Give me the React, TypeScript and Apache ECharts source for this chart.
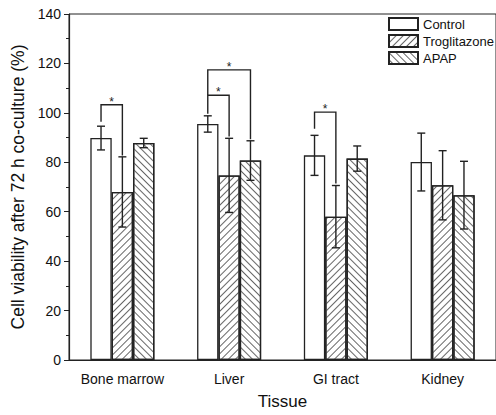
import React, { useEffect, useRef } from "react";
import * as echarts from "echarts";

const categories = ["Bone marrow", "Liver", "GI tract", "Kidney"];
const seriesNames = ["Control", "Troglitazone", "APAP"];
const controlValues = [89.8, 95.5, 82.8, 80.1];
const controlErrors = [4.8, 3.3, 8.1, 11.7];
const troglitazoneValues = [68.0, 74.7, 58.0, 70.7];
const troglitazoneErrors = [14.2, 15.0, 12.6, 14.0];
const apapValues = [87.8, 80.7, 81.5, 66.7];
const apapErrors = [1.9, 8.0, 5.1, 13.7];
const yTicks = [0, 20, 40, 60, 80, 100, 120, 140];
// [category index, from series, to series, top, from-leg bottom, to-leg bottom]
const brackets = [
  [0, 0, 1, 103.3, 96.4, 82.7],
  [1, 0, 1, 107.1, 99.6, 90.4],
  [1, 0, 2, 117.4, 107.1, 89.3],
  [2, 0, 1, 100.3, 93.6, 71.4],
];

const FONT = "'Liberation Sans', Arial, sans-serif";
const INK = "#222";
const BAR_FRAC = 0.2;

function errorSeries(values: number[], errors: number[], k: number) {
  return {
    type: "custom",
    z: 4,
    silent: true,
    encode: { x: 0, y: 1 },
    data: values.map((v, i) => [i, v, errors[i]]),
    renderItem: (params: any, api: any) => {
      const band = api.size([1, 0])[0];
      const cat = api.value(0);
      const v = api.value(1);
      const e = api.value(2);
      const hi = api.coord([cat, v + e]);
      const lo = api.coord([cat, v - e]);
      const x = hi[0] + (k - 1) * BAR_FRAC * band;
      const cap = 4;
      const style = { stroke: INK, lineWidth: 1.4, fill: null };
      return {
        type: "group",
        children: [
          { type: "line", shape: { x1: x, y1: hi[1], x2: x, y2: lo[1] }, style },
          { type: "line", shape: { x1: x - cap, y1: hi[1], x2: x + cap, y2: hi[1] }, style },
          { type: "line", shape: { x1: x - cap, y1: lo[1], x2: x + cap, y2: lo[1] }, style },
        ],
      };
    },
  };
}

export default function App() {
  const ref = useRef<HTMLDivElement>(null);
  useEffect(() => {
    if (!ref.current) return;
    const chart = echarts.init(ref.current, null, { renderer: "svg" });
    const hatch = (rotation: number) => ({
      symbol: "rect",
      symbolSize: 1,
      color: "#666",
      backgroundColor: "#fff",
      dashArrayX: [1, 0],
      dashArrayY: [0.8, 3.6],
      rotation,
    });
    const barBase = {
      type: "bar",
      barGap: "0%",
      barCategoryGap: "40%",
      z: 2,
    };
    chart.setOption({
      animation: false,
      backgroundColor: "#fff",
      textStyle: { fontFamily: FONT },
      grid: {
        left: 69,
        right: -1,
        top: 14,
        bottom: 53,
        show: true,
        borderColor: INK,
        borderWidth: 1,
      },
      legend: {
        orient: "vertical",
        left: 388,
        top: 17,
        padding: 0,
        icon: "rect",
        itemWidth: 29,
        itemHeight: 12,
        itemGap: 3,
        data: seriesNames,
        textStyle: { fontSize: 13, color: "#111", fontFamily: FONT },
      },
      xAxis: {
        type: "category",
        data: categories,
        axisTick: { show: false },
        axisLine: { lineStyle: { color: INK, width: 1.2 } },
        axisLabel: { fontSize: 14, color: "#111", margin: 12, interval: 0, fontFamily: FONT },
        name: "Tissue",
        nameLocation: "middle",
        nameGap: 33,
        nameTextStyle: { fontSize: 17, color: "#111", fontFamily: FONT },
      },
      yAxis: {
        type: "value",
        min: yTicks[0],
        max: yTicks[yTicks.length - 1],
        interval: yTicks[1] - yTicks[0],
        splitLine: { show: false },
        axisLine: { show: true, lineStyle: { color: INK, width: 1.2 } },
        axisTick: { show: true, length: 5, lineStyle: { color: INK } },
        minorTick: { show: true, splitNumber: 2, length: 3, lineStyle: { color: INK } },
        axisLabel: { fontSize: 14, color: "#111", margin: 8, fontFamily: FONT },
        name: "Cell viability after 72 h co-culture (%)",
        nameLocation: "middle",
        nameGap: 37,
        nameTextStyle: { fontSize: 17.5, color: "#111", fontFamily: FONT },
      },
      series: [
        {
          ...barBase,
          name: seriesNames[0],
          data: controlValues,
          itemStyle: { color: "#fff", borderColor: INK, borderWidth: 1.3 },
        },
        {
          ...barBase,
          name: seriesNames[1],
          data: troglitazoneValues,
          itemStyle: { color: "#fff", borderColor: INK, borderWidth: 1.3, decal: hatch(-Math.PI / 4) },
        },
        {
          ...barBase,
          name: seriesNames[2],
          data: apapValues,
          itemStyle: { color: "#fff", borderColor: INK, borderWidth: 1.3, decal: hatch(Math.PI / 4) },
        },
        errorSeries(controlValues, controlErrors, 0),
        errorSeries(troglitazoneValues, troglitazoneErrors, 1),
        errorSeries(apapValues, apapErrors, 2),
        {
          type: "custom",
          z: 5,
          silent: true,
          encode: { x: 0, y: 3 },
          data: brackets,
          renderItem: (params: any, api: any) => {
            const band = api.size([1, 0])[0];
            const cat = api.value(0);
            const from = api.value(1);
            const to = api.value(2);
            const top = api.coord([cat, api.value(3)]);
            const yf = api.coord([cat, api.value(4)])[1];
            const yt = api.coord([cat, api.value(5)])[1];
            const x1 = top[0] + (from - 1) * BAR_FRAC * band;
            const x2 = top[0] + (to - 1) * BAR_FRAC * band;
            return {
              type: "group",
              children: [
                {
                  type: "polyline",
                  shape: { points: [[x1, yf], [x1, top[1]], [x2, top[1]], [x2, yt]] },
                  style: { stroke: INK, lineWidth: 1.4, fill: null },
                },
                {
                  type: "text",
                  x: (x1 + x2) / 2,
                  y: top[1] + 3,
                  style: {
                    text: "*",
                    fontSize: 12,
                    fontFamily: FONT,
                    fill: INK,
                    align: "center",
                    verticalAlign: "bottom",
                  },
                },
              ],
            };
          },
        },
      ],
    });
    return () => chart.dispose();
  }, []);
  return (
    <div
      ref={ref}
      style={{ position: "fixed", left: 0, top: 0, width: 496, height: 415 }}
    />
  );
}
